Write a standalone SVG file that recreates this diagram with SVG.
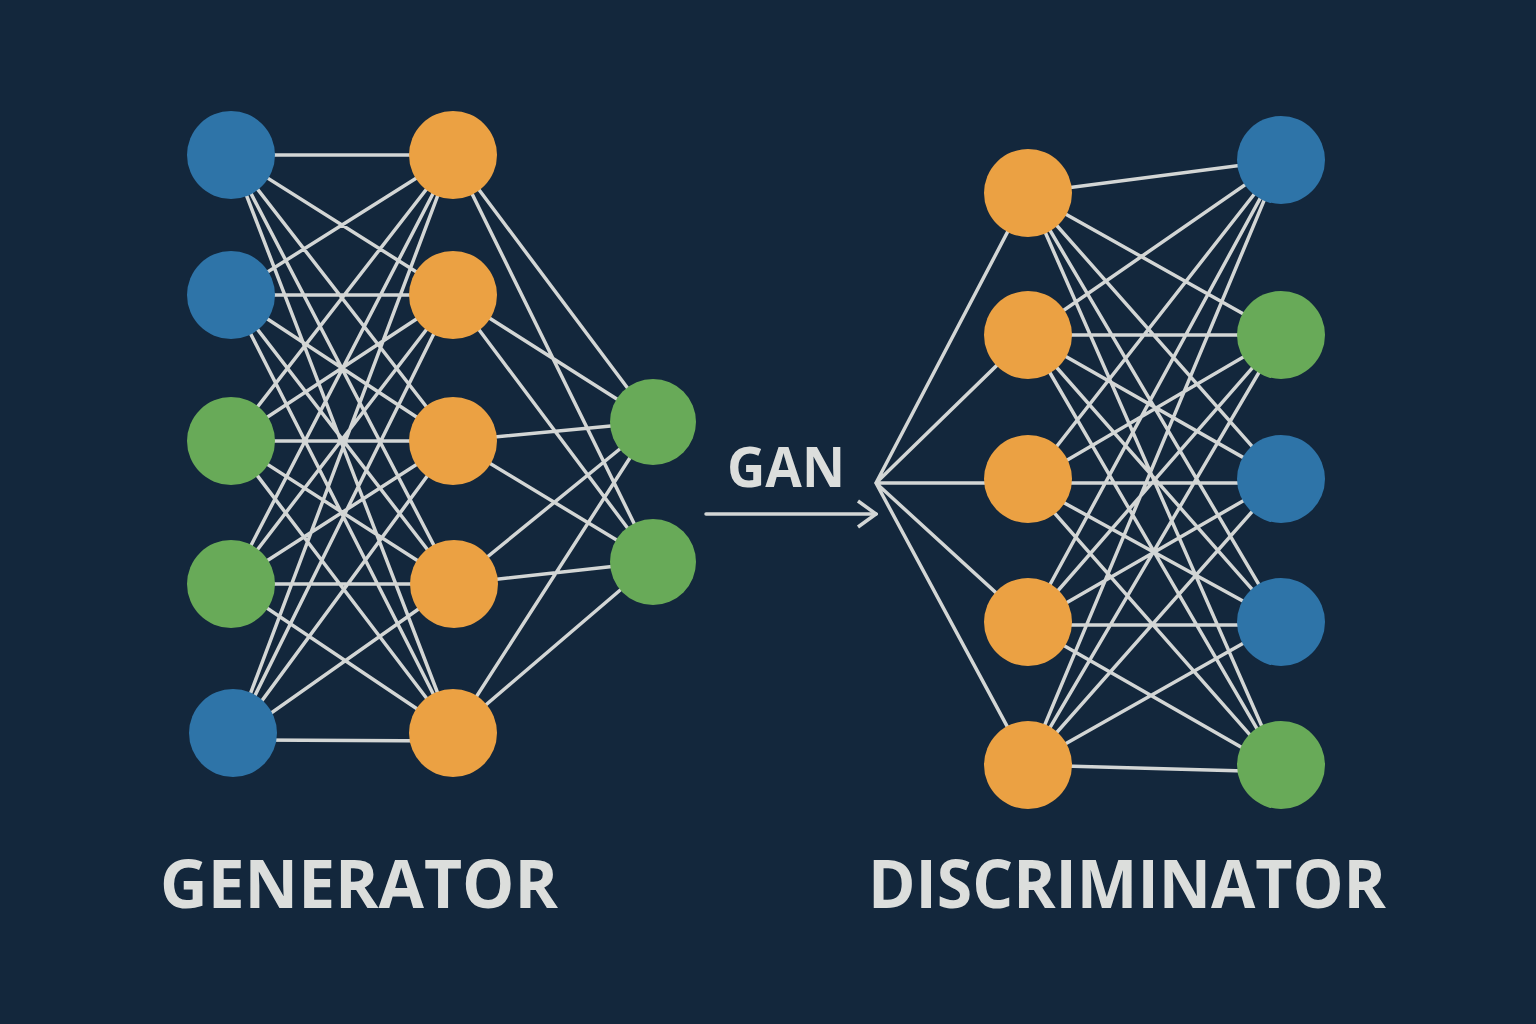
<svg xmlns="http://www.w3.org/2000/svg" width="1536" height="1024" viewBox="0 0 1536 1024">
<defs>
<style>
.c{stroke:#d3d6d5;stroke-width:3.5;fill:none;stroke-linecap:round}
.b{fill:#2e74a8}
.o{fill:#eba143}
.g{fill:#68aa58}
.t{fill:#dcdedc;font-family:"Open Sans","Liberation Sans",sans-serif;font-weight:700}
</style>
<marker id="ah" viewBox="0 0 24 30" refX="22" refY="15" markerWidth="24" markerHeight="30" markerUnits="userSpaceOnUse" orient="auto">
<path d="M4 2 L22 15 L4 28" fill="none" stroke="#d3d6d5" stroke-width="3.5"/>
</marker>
</defs>
<rect width="1536" height="1024" fill="#13273c"/>
<g id="connectors">
<path class="c" d="M231 155L453 155M231 155L453 295M231 155L453 441M231 155L454 584M231 155L453 733
M231 295L453 155M231 295L453 295M231 295L453 441M231 295L454 584M231 295L453 733
M231 441L453 155M231 441L453 295M231 441L453 441M231 441L454 584M231 441L453 733
M231 584L453 155M231 584L453 295M231 584L453 441M231 584L454 584M231 584L453 733
M233 740L453 155M233 740L453 295M233 740L453 441M233 740L454 584M233 740L453 741"/>
<path class="c" d="M453 155L653 422M453 155L653 562M453 295L653 422M453 295L653 562M453 441L653 422M453 441L653 562M454 584L653 422M454 584L653 562M453 733L653 422M453 733L653 562"/>
<path class="c" d="M876 483L1028 193M876 483L1028 335M876 483L1028 483M876 483L1028 622M876 483L1028 765"/>
<path class="c" d="M1028 193L1281 160M1028 193L1281 335M1028 193L1281 479M1028 193L1281 622M1028 193L1281 770
M1028 335L1281 160M1028 335L1281 335M1028 335L1281 479M1028 335L1281 622M1028 335L1281 770
M1028 483L1281 160M1028 483L1281 335M1028 483L1281 483M1028 483L1281 622M1028 483L1281 770
M1028 625L1281 160M1028 625L1281 335M1028 625L1281 479M1028 625L1281 625M1028 625L1281 770
M1028 765L1281 160M1028 765L1281 335M1028 765L1281 479M1028 765L1281 622M1028 765L1281 772"/>
<path class="c" d="M706 514L876 514" marker-end="url(#ah)"/>
</g>
<g id="gen-in-1"><circle class="b" cx="231" cy="155" r="44"/></g>
<g id="gen-in-2"><circle class="b" cx="231" cy="295" r="44"/></g>
<g id="gen-in-3"><circle class="g" cx="231" cy="441" r="44"/></g>
<g id="gen-in-4"><circle class="g" cx="231" cy="584" r="44"/></g>
<g id="gen-in-5"><circle class="b" cx="233" cy="733" r="44"/></g>
<g id="gen-h-1"><circle class="o" cx="453" cy="155" r="44"/></g>
<g id="gen-h-2"><circle class="o" cx="453" cy="295" r="44"/></g>
<g id="gen-h-3"><circle class="o" cx="453" cy="441" r="44"/></g>
<g id="gen-h-4"><circle class="o" cx="454" cy="584" r="44"/></g>
<g id="gen-h-5"><circle class="o" cx="453" cy="733" r="44"/></g>
<g id="gen-out-1"><circle class="g" cx="653" cy="422" r="43"/></g>
<g id="gen-out-2"><circle class="g" cx="653" cy="562" r="43"/></g>
<g id="dis-in-1"><circle class="o" cx="1028" cy="193" r="44"/></g>
<g id="dis-in-2"><circle class="o" cx="1028" cy="335" r="44"/></g>
<g id="dis-in-3"><circle class="o" cx="1028" cy="479" r="44"/></g>
<g id="dis-in-4"><circle class="o" cx="1028" cy="622" r="44"/></g>
<g id="dis-in-5"><circle class="o" cx="1028" cy="765" r="44"/></g>
<g id="dis-out-1"><circle class="b" cx="1281" cy="160" r="44"/></g>
<g id="dis-out-2"><circle class="g" cx="1281" cy="335" r="44"/></g>
<g id="dis-out-3"><circle class="b" cx="1281" cy="479" r="44"/></g>
<g id="dis-out-4"><circle class="b" cx="1281" cy="622" r="44"/></g>
<g id="dis-out-5"><circle class="g" cx="1281" cy="765" r="44"/></g>
<g id="labels">
<text class="t" x="786" y="487" font-size="55" text-anchor="middle" textLength="118" lengthAdjust="spacingAndGlyphs">GAN</text>
<text class="t" x="359" y="908" font-size="66" text-anchor="middle" textLength="398" lengthAdjust="spacingAndGlyphs">GENERATOR</text>
<text class="t" x="1127" y="908" font-size="66" text-anchor="middle" textLength="518" lengthAdjust="spacingAndGlyphs">DISCRIMINATOR</text>
</g>
</svg>
